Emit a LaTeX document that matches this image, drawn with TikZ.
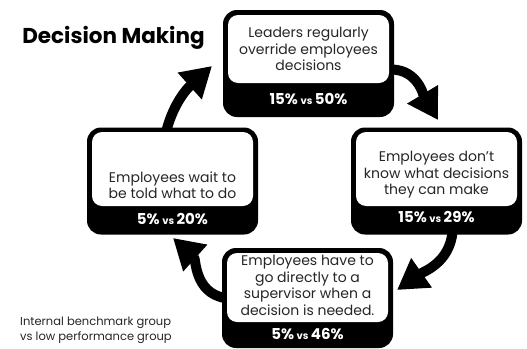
\documentclass[tikz,border=0pt]{standalone}
\usepackage{fontspec}
\setmainfont{Poppins}
\usetikzlibrary{arrows.meta}

\newcommand{\stat}[2]{{\bfseries\fontsize{15}{15}\selectfont #1\,{\fontsize{10}{10}\selectfont vs}\,#2}}

\tikzset{
  outerbox/.style={fill=black, rounded corners=14pt, inner sep=0pt,
                   minimum width=171pt, minimum height=107pt},
  innerbox/.style={fill=white, rounded corners=10pt, inner sep=0pt,
                   minimum width=161pt},
  bodytext/.style={align=center, inner sep=0pt,
                   font=\fontsize{14}{16.5}\selectfont, text=black!85},
  stattext/.style={inner sep=0pt, text=white},
  flow/.style={line width=10pt, -{Triangle[width=34pt,length=30pt]}},
}

\begin{document}
\begin{tikzpicture}[x=1pt,y=-1pt]
\useasboundingbox[fill=white] (0,0) rectangle (527,348);

% title and legend
\node[inner sep=0pt, font=\bfseries\fontsize{21.5}{21.5}\selectfont] (title) at (113.5,38) {Decision Making};
\node[inner sep=0pt, anchor=west, align=left, font=\fontsize{11.5}{15}\selectfont, text=black!85] (legend) at (20,330)
  {Internal benchmark group\\vs low performance group};

% top box
\node[outerbox] (top) at (308.5,63.5) {};
\node[innerbox, minimum height=68pt] (topw) at (308.5,49) {};
\node[bodytext] (toptxt) at (308.5,49) {Leaders regularly\\override employees\\decisions};
\node[stattext] (topstat) at (308.5,99) {\stat{15\%}{50\%}};

% right box
\node[outerbox] (right) at (436.5,181) {};
\node[innerbox, minimum height=74pt] (rightw) at (436.5,169) {};
\node[bodytext] (righttxt) at (436.5,175) {Employees don't\\know what decisions\\they can make};
\node[stattext] (rightstat) at (436.5,217) {\stat{15\%}{29\%}};

% left box
\node[outerbox] (left) at (172.5,181) {};
\node[innerbox, minimum height=74pt] (leftw) at (172.5,169) {};
\node[bodytext] (lefttxt) at (172.5,185) {Employees wait to\\be told what to do};
\node[stattext] (leftstat) at (172.5,219) {\stat{5\%}{20\%}};

% bottom box
\node[outerbox, minimum height=100pt] (bottom) at (307.5,298) {};
\node[innerbox, minimum height=69pt] (bottomw) at (307.5,287.5) {};
\node[bodytext] (bottomtxt) at (307.5,285.5) {Employees have to\\go directly to a\\supervisor when a\\decision is needed.};
\node[stattext] (bottomstat) at (307.5,334) {\stat{5\%}{46\%}};

% arrow tips
\coordinate (tipA) at (438,120);
\coordinate (tipB) at (397,290);
\coordinate (tipC) at (173,238);
\coordinate (tipD) at (212,66);

% cycle arrows
\draw[flow] ([yshift=-6pt,xshift=-3pt]top.east) to[out=0,in=121] (tipA);
\draw[flow] ([xshift=16pt,yshift=3pt]right.south) to[out=-95,in=35] (tipB);
\draw[flow] ([xshift=3pt]bottom.west) to[out=170,in=-42] (tipC);
\draw[flow] ([xshift=-6pt,yshift=-3pt]left.north) to[out=75,in=222] (tipD);
\end{tikzpicture}
\end{document}
